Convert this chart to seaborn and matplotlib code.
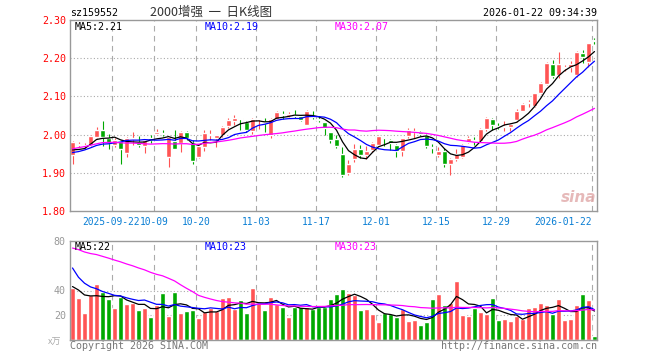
# daily K-line chart, sina finance style

import numpy as np
import pandas as pd
import seaborn as sns
import matplotlib.pyplot as plt

# prices (index 0 = 2025-09-11, last = 2026-01-22)
opens = [1.946, 1.972, 1.970, 1.974, 1.993, 2.013, 1.990, 1.974, 1.982, 1.952,
         1.989, 1.980, 1.969, 1.990, 2.001, 2.003, 1.941, 1.982, 1.977, 2.007,
         1.978, 1.941, 1.967, 1.998, 1.990, 1.998, 2.023, 2.035, 2.042, 2.033,
         2.009, 2.040, 2.033, 1.998, 2.042, 2.053, 2.048, 2.051, 2.048, 2.026,
         2.049, 2.040, 2.032, 2.006, 1.989, 1.950, 1.899, 1.935, 1.963, 1.946,
         1.959, 1.974, 1.992, 1.987, 1.974, 1.958, 1.996, 2.006, 2.007, 2.000,
         1.966, 1.946, 1.957, 1.922, 1.935, 1.941, 1.980, 1.985, 1.984, 2.015,
         2.041, 2.023, 2.019, 2.020, 2.037, 2.063, 2.082, 2.075, 2.108, 2.132,
         2.184, 2.156, 2.174, 2.178, 2.156, 2.213, 2.191, 2.247]
highs = [1.982, 1.980, 1.977, 1.998, 2.020, 2.035, 2.001, 1.990, 1.986, 1.994,
         2.006, 1.996, 1.989, 1.998, 2.015, 2.013, 1.995, 2.013, 2.009, 2.009,
         1.987, 1.972, 2.013, 2.013, 2.000, 2.023, 2.044, 2.052, 2.043, 2.036,
         2.044, 2.044, 2.043, 2.044, 2.061, 2.062, 2.060, 2.065, 2.052, 2.065,
         2.061, 2.048, 2.034, 2.008, 2.000, 1.967, 1.934, 1.976, 1.974, 1.969,
         1.980, 1.998, 1.993, 1.988, 1.976, 1.992, 2.017, 2.017, 2.009, 2.001,
         1.976, 1.967, 1.965, 1.938, 1.961, 1.976, 1.997, 1.994, 2.017, 2.046,
         2.043, 2.030, 2.035, 2.031, 2.067, 2.083, 2.091, 2.110, 2.138, 2.189,
         2.194, 2.217, 2.182, 2.193, 2.219, 2.222, 2.241, 2.252]
lows = [1.922, 1.968, 1.963, 1.970, 1.990, 1.970, 1.963, 1.968, 1.922, 1.941,
        1.974, 1.967, 1.952, 1.978, 1.999, 1.996, 1.915, 1.961, 1.954, 1.985,
        1.923, 1.938, 1.957, 1.987, 1.967, 1.995, 2.017, 2.024, 2.013, 2.007,
        2.002, 2.015, 2.007, 1.991, 2.040, 2.042, 2.045, 2.044, 2.036, 2.024,
        2.041, 2.033, 2.000, 1.977, 1.966, 1.888, 1.893, 1.927, 1.939, 1.935,
        1.955, 1.972, 1.969, 1.959, 1.941, 1.943, 1.991, 1.991, 1.996, 1.965,
        1.952, 1.941, 1.915, 1.895, 1.932, 1.939, 1.977, 1.974, 1.982, 2.009,
        2.011, 2.015, 2.009, 2.009, 2.033, 2.061, 2.072, 2.073, 2.106, 2.130,
        2.149, 2.148, 2.167, 2.165, 2.152, 2.187, 2.178, 2.237]
closes = [1.980, 1.975, 1.972, 1.996, 2.013, 1.995, 1.978, 1.985, 1.961, 1.991,
          1.990, 1.974, 1.987, 1.986, 2.007, 2.001, 1.993, 1.963, 2.007, 1.990,
          1.930, 1.969, 2.003, 2.001, 1.998, 2.021, 2.039, 2.044, 2.040, 2.013,
          2.041, 2.042, 2.031, 2.042, 2.059, 2.051, 2.054, 2.049, 2.039, 2.061,
          2.047, 2.038, 2.017, 1.987, 1.969, 1.895, 1.922, 1.963, 1.946, 1.958,
          1.978, 1.996, 1.990, 1.978, 1.957, 1.991, 2.013, 2.008, 2.002, 1.969,
          1.964, 1.957, 1.922, 1.936, 1.948, 1.974, 1.991, 1.983, 2.015, 2.044,
          2.026, 2.021, 2.021, 2.029, 2.063, 2.081, 2.085, 2.108, 2.134, 2.187,
          2.154, 2.184, 2.176, 2.184, 2.217, 2.202, 2.239, 2.245]
# volume, 万
volumes = [42, 34, 22, 36, 45, 39, 33, 26, 35, 29,
           30, 24, 26, 18.5, 28, 38, 19.6, 38.7, 22, 23.4,
           24.2, 17.7, 22.3, 25.8, 23.4, 33.6, 35, 25, 32.3, 21.5,
           42.2, 29.6, 24.2, 35, 28.8, 26.9, 18.8, 26.9, 26.9, 27,
           25, 27, 27, 33, 37, 41, 37.6, 36.3, 24.2, 25,
           21, 14.5, 21.5, 21, 18.8, 25, 15.3, 16.1, 12.1, 14.5,
           33, 37, 28, 30, 48, 20, 19.6, 26, 23, 21,
           34, 16, 17, 15, 19, 17, 26, 27, 30, 28,
           21, 33, 16, 17, 28, 37, 32, 3]

# sessions before the window, only feed the moving averages
pre_close = [1.88, 1.89, 1.89, 1.90, 1.90, 1.96, 1.98, 2.00, 2.01, 1.99,
             2.00, 2.02, 2.01, 1.99, 1.98, 2.00, 1.99, 1.98, 1.99, 1.99,
             1.95, 1.93, 1.94, 1.95, 1.96, 1.97, 1.96, 1.94, 1.95]
pre_vol = [72, 79, 74, 70, 82, 76, 73, 78, 80, 74, 77, 72, 79, 76, 74, 80,
           102, 115, 110, 104, 109, 70, 66, 60, 61, 48, 42, 40, 44]

date_pos = [7, 14, 21, 31, 41, 51, 61, 71, 87]
date_labels = ['2025-09-22', '10-09', '10-20', '11-03', '11-17',
               '12-01', '12-15', '12-29', '2026-01-22']
price_ticks = [1.80, 1.90, 2.00, 2.10, 2.20, 2.30]
vol_ticks = [20, 40, 80]

RED = '#ff5454'
GREEN = '#00a800'
GRID = '#aaaaaa'
W, H = 660, 360

sns.set_style('white')
plt.rcParams['font.family'] = ['DejaVu Sans Mono', 'Noto Sans CJK SC']

n = len(closes)
idx = np.arange(n)
c_all = pd.Series(pre_close + closes)
v_all = pd.Series(pre_vol + volumes)
k = len(pre_close)
df = pd.DataFrame({
    'idx': idx,
    'ma5': c_all.rolling(5).mean().iloc[k:].values,
    'ma10': c_all.rolling(10).mean().iloc[k:].values,
    'ma30': c_all.rolling(30).mean().iloc[k:].values,
    'vma5': v_all.rolling(5).mean().iloc[k:].values,
    'vma10': v_all.rolling(10).mean().iloc[k:].values,
    'vma30': v_all.rolling(30).mean().iloc[k:].values,
})
colors = [RED if c >= o else GREEN for o, c in zip(opens, closes)]


def rect(l, t, r, b):
    return [l / W, 1 - b / H, (r - l) / W, (b - t) / H]


fig = plt.figure(figsize=(6.6, 3.6), dpi=100)
ax = fig.add_axes(rect(70, 20, 597, 211))
axv = fig.add_axes(rect(70, 241, 597, 340))

xl = (-2.5 / 6, (597 - 72.5) / 6)
grid_x = [p - 2.5 / 6 for p in date_pos]

# candles
ax.vlines(idx, lows, highs, colors=colors, lw=0.8, zorder=2)
body = [max(abs(c - o), 0.0026) for o, c in zip(opens, closes)]
bottom = [min(o, c) for o, c in zip(opens, closes)]
ax.bar(idx, body, bottom=bottom, width=0.84, color=colors, zorder=2)

sns.lineplot(data=df, x='idx', y='ma5', ax=ax, color='black', lw=0.9, zorder=3)
sns.lineplot(data=df, x='idx', y='ma10', ax=ax, color='#0000ff', lw=0.9, zorder=3)
sns.lineplot(data=df, x='idx', y='ma30', ax=ax, color='#ff00ff', lw=0.9, zorder=3)

# volume
axv.bar(idx, volumes, width=0.84, color=colors, zorder=2)
sns.lineplot(data=df, x='idx', y='vma5', ax=axv, color='black', lw=0.9, zorder=3)
sns.lineplot(data=df, x='idx', y='vma10', ax=axv, color='#0000ff', lw=0.9, zorder=3)
sns.lineplot(data=df, x='idx', y='vma30', ax=axv, color='#ff00ff', lw=0.9, zorder=3)

for a in (ax, axv):
    a.set_xlim(*xl)
    a.set_xlabel('')
    a.set_ylabel('')
    a.set_xticks([])
    for s in a.spines.values():
        s.set_color('#999999')
        s.set_linewidth(1)
    for gx in grid_x:
        a.axvline(gx, color=GRID, lw=0.8, ls=(0, (5, 4)), zorder=1)

ax.set_ylim(1.80, 2.30)
ax.set_yticks(price_ticks)
ax.set_yticklabels(['%.2f' % t for t in price_ticks])
ax.tick_params(axis='y', length=0, pad=3, labelsize=7.2, labelcolor='#ff0000')
for t in price_ticks[1:-1]:
    ax.axhline(t, color=GRID, lw=0.8, ls=(0, (1, 2)), zorder=1)

axv.set_ylim(0, 80)
axv.set_yticks(vol_ticks)
axv.set_yticklabels([str(t) for t in vol_ticks])
axv.tick_params(axis='y', length=0, pad=3, labelsize=7.2, labelcolor='#999999')
for t in (20, 40):
    axv.axhline(t, color=GRID, lw=0.8, ls=(0, (1, 2)), zorder=1)

# date labels
for p, g, lab in zip(date_pos, grid_x, date_labels):
    ha = 'right' if p == date_pos[-1] else 'center'
    if p == date_pos[0]:
        g -= 0.2
    ax.text(g, -0.056, lab, transform=ax.get_xaxis_transform(), ha=ha,
            va='center', fontsize=6.9, color='#0b7fd4')


def ftext(x, y, s, **kw):
    fig.text(x / W, 1 - y / H, s, va='center', **kw)


ftext(70, 13, 'sz159552', fontsize=7.2, color='black')
ftext(150, 12, '2000增强  一  日K线图', fontsize=9, color='#333333',
      family=['Noto Sans CJK SC', 'DejaVu Sans'])
ftext(597, 13, '2026-01-22 09:34:39', fontsize=7.2, color='black', ha='right')

ftext(75, 27, 'MA5:2.21', fontsize=7.2, color='black')
ftext(205, 27, 'MA10:2.19', fontsize=7.2, color='#0000ff')
ftext(335, 27, 'MA30:2.07', fontsize=7.2, color='#ff00ff')
ftext(75, 247, 'MA5:22', fontsize=7.2, color='black')
ftext(205, 247, 'MA10:23', fontsize=7.2, color='#0000ff')
ftext(335, 247, 'MA30:23', fontsize=7.2, color='#ff00ff')

ftext(48, 342, 'x万', fontsize=6.5, color='#aaaaaa',
      family=['Noto Sans CJK SC', 'DejaVu Sans'])
ftext(70, 346, 'Copyright 2026 SINA.COM', fontsize=7.2, color='#777777')
ftext(597, 346, 'http://finance.sina.com.cn', fontsize=7.2, color='#777777', ha='right')
ftext(596, 197, 'sina', fontsize=11, color='#e0a8a8', ha='right',
      fontweight='bold', style='italic', family='DejaVu Sans', alpha=0.8)

fig.savefig('out.png', dpi=100)
